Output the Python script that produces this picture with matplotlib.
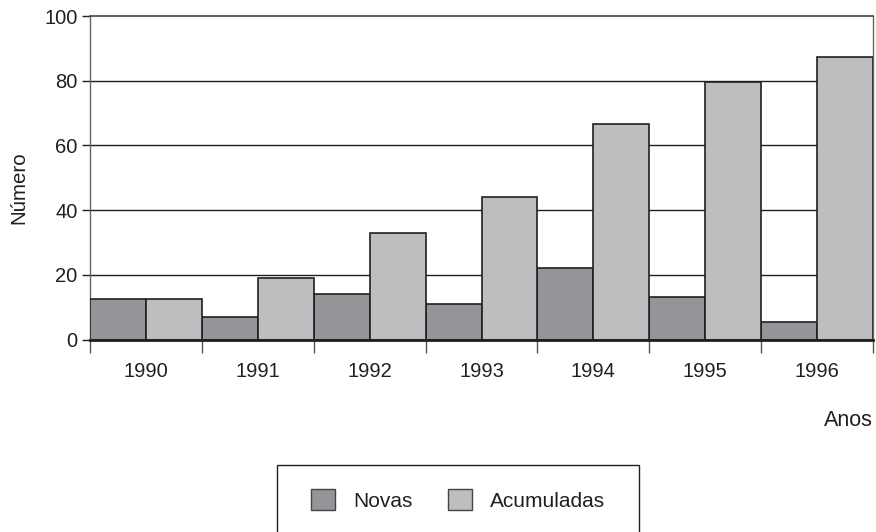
import matplotlib.pyplot as plt
from matplotlib.patches import Patch, Rectangle
import numpy as np

plt.rcParams['font.family'] = ['Liberation Sans', 'DejaVu Sans']

anos = ['1990', '1991', '1992', '1993', '1994', '1995', '1996']
novas = [12.5, 7, 14, 11, 22, 13, 5.3]
acumuladas = [12.5, 19, 33, 44, 66.6, 79.6, 87.2]

cor_novas = '#939598'
cor_acum = '#bcbec0'
borda = '#231f20'

W, H = 876, 532
fig = plt.figure(figsize=(W / 100, H / 100), dpi=100)
ax = fig.add_axes([90 / W, 1 - 339.5 / H, 783 / W, 323.5 / H])

x = np.arange(len(anos))
ax.bar(x - 0.25, novas, width=0.5, color=cor_novas, edgecolor=borda,
       linewidth=1.2, zorder=3, label='Novas')
ax.bar(x + 0.25, acumuladas, width=0.5, color=cor_acum, edgecolor=borda,
       linewidth=1.2, zorder=3, label='Acumuladas')

ax.set_xlim(-0.5, 6.5)
ax.set_ylim(0, 100)
ax.set_yticks([0, 20, 40, 60, 80, 100])
for v in [20, 40, 60, 80]:
    ax.axhline(v, color=borda, linewidth=1.0, zorder=1)

ax.set_xticks(x)
ax.set_xticklabels(anos)
ax.set_xticks(np.arange(-0.5, 7, 1), minor=True)
ax.tick_params(axis='x', which='major', length=0, pad=16, labelsize=14.5,
               labelcolor='#231f20')
ax.tick_params(axis='x', which='minor', length=9.5, width=1.0, color='#555555')
ax.tick_params(axis='y', length=6, width=1.0, pad=3, labelsize=14.5,
               color=borda, labelcolor='#231f20')

for s in ['left', 'right']:
    ax.spines[s].set_color('#666666')
    ax.spines[s].set_linewidth(1.0)
ax.spines['top'].set_color('#444444')
ax.spines['top'].set_linewidth(1.2)
ax.spines['bottom'].set_color(borda)
ax.spines['bottom'].set_linewidth(2.0)
ax.spines['bottom'].set_zorder(4)

fig.text(18.5 / W, 1 - 188 / H, 'Número', rotation=90, ha='center', va='center',
         fontsize=14.8, color='#231f20')
fig.text(873 / W, 1 - 420 / H, 'Anos', ha='right', va='center', fontsize=15.5,
         color='#231f20')

# caixa da legenda (cortada embaixo como no original)
fig.patches.append(Rectangle((277 / W, -0.05), 362 / W, 0.05 + 1 - 465 / H,
                             transform=fig.transFigure, facecolor='white',
                             edgecolor=borda, linewidth=1.0))

handles = [Patch(facecolor=cor_novas, edgecolor='#444444', linewidth=1.0),
           Patch(facecolor=cor_acum, edgecolor='#444444', linewidth=1.0)]
leg = fig.legend(handles, ['Novas', 'Acumuladas'], loc='center',
                 bbox_to_anchor=(458 / W, 1 - 500 / H), ncol=2,
                 fontsize=15, handlelength=1.15, handleheight=1.15,
                 handletextpad=0.85, columnspacing=1.7, borderpad=0,
                 borderaxespad=0, frameon=False, labelcolor='#231f20')

fig.savefig('out.png', dpi=100)
